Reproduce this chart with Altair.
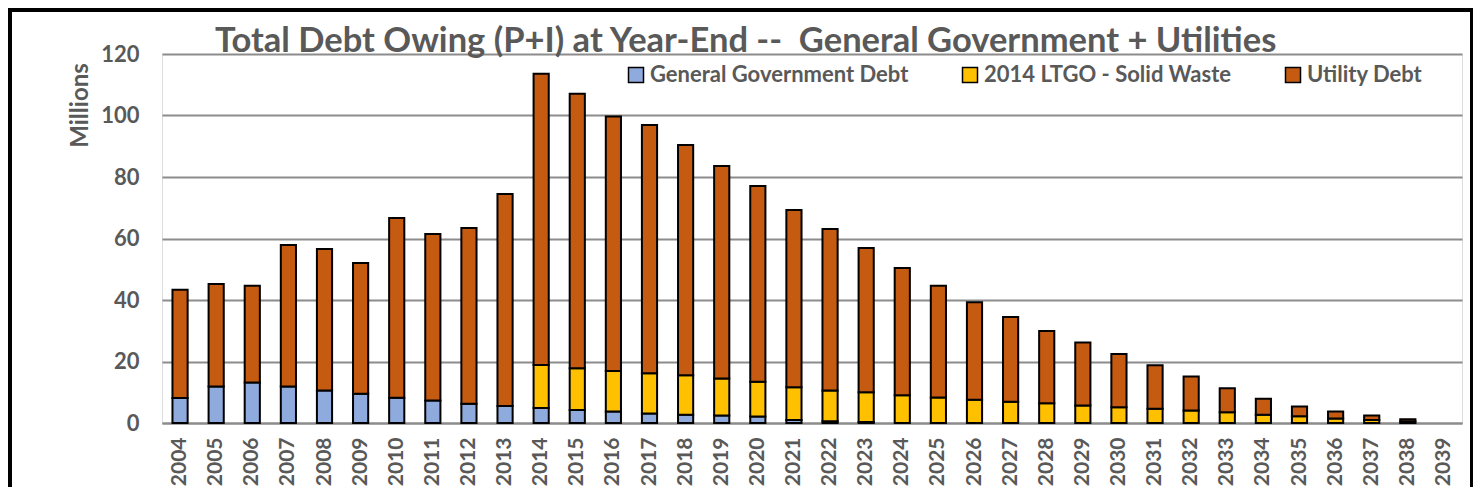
import altair as alt
import pandas as pd

years = [str(y) for y in range(2004, 2040)]

totals = [43.3, 45.2, 44.6, 57.9, 56.6, 52.0, 66.7, 61.5, 63.4, 74.5,
          113.6, 107.1, 99.7, 96.9, 90.4, 83.6, 77.1, 69.3, 63.1, 56.9,
          50.4, 44.6, 39.3, 34.5, 29.9, 26.2, 22.4, 18.8, 15.1, 11.3,
          7.9, 5.4, 3.7, 2.4, 1.2, 0.0]

general_gov = [8.1, 11.9, 13.2, 11.9, 10.6, 9.5, 8.2, 7.3, 6.3, 5.5,
               4.9, 4.2, 3.7, 3.1, 2.7, 2.4, 2.1, 1.0, 0.6, 0.3,
               0.0, 0.0, 0.0, 0.0, 0.0, 0.0, 0.0, 0.0, 0.0, 0.0,
               0.0, 0.0, 0.0, 0.0, 0.0, 0.0]

ltgo_solid_waste = [0.0, 0.0, 0.0, 0.0, 0.0, 0.0, 0.0, 0.0, 0.0, 0.0,
                    14.0, 13.6, 13.2, 13.1, 12.8, 12.1, 11.3, 10.6, 10.0, 9.7,
                    9.0, 8.3, 7.6, 6.9, 6.4, 5.7, 5.1, 4.6, 4.1, 3.5,
                    2.7, 2.2, 1.5, 1.0, 0.5, 0.0]

utility = [round(t - g - l, 2) for t, g, l in zip(totals, general_gov, ltgo_solid_waste)]

series = ["General Government Debt", "2014 LTGO - Solid Waste", "Utility Debt"]
colors = ["#8FAADC", "#FFC000", "#C55A11"]

rows = []
for i, y in enumerate(years):
    for k, (name, vals) in enumerate(zip(series, [general_gov, ltgo_solid_waste, utility])):
        rows.append({"year": y, "series": name, "value": vals[i], "ord": k})
df = pd.DataFrame(rows)

FONT = "Lato"
GREY = "#595959"
GRID = "#8C8C8C"

bars = alt.Chart(df).transform_filter("datum.value > 0").mark_bar(
    stroke="black", strokeWidth=2
).encode(
    x=alt.X("year:N", sort=years,
            scale=alt.Scale(domain=years, paddingInner=0.58, paddingOuter=0.29),
            axis=alt.Axis(title=None, labelAngle=270, labelFont=FONT, labelFontSize=21,
                          labelFontWeight="bold", labelColor=GREY, labelPadding=14,
                          ticks=False, domainColor=GRID, domainWidth=2, grid=False)),
    y=alt.Y("value:Q", stack="zero",
            scale=alt.Scale(domain=[0, 120], nice=False),
            axis=alt.Axis(values=[0, 20, 40, 60, 80, 100, 120], grid=True,
                          gridColor=GRID, gridWidth=2, domain=False, ticks=False,
                          labelFont=FONT, labelFontSize=22, labelFontWeight="bold",
                          labelColor=GREY, labelPadding=23,
                          title="Millions", titleFont=FONT, titleFontSize=24,
                          titleFontWeight="bold", titleColor=GREY,
                          titleX=-82, titleY=51, titleAlign="center",
                          titleBaseline="middle", titleAngle=270)),
    color=alt.Color("series:N", sort=series,
                    scale=alt.Scale(domain=series, range=colors),
                    legend=alt.Legend(title=None, orient="none", legendX=463, legendY=10,
                                      direction="horizontal", columnPadding=50,
                                      symbolType="square", symbolSize=225,
                                      symbolStrokeColor="black", symbolStrokeWidth=1.5,
                                      labelFont=FONT, labelFontSize=22, labelFontWeight="bold",
                                      labelColor=GREY, labelOffset=3, labelLimit=0)),
    order=alt.Order("ord:Q", sort="ascending"),
)

frame = alt.Chart(pd.DataFrame({"f": [0]})).mark_rect(
    fill=None, stroke="black", strokeWidth=4
).encode(x=alt.value(-152), x2=alt.value(1310), y=alt.value(-44), y2=alt.value(460))

chart = alt.layer(frame, bars).properties(
    width=1300, height=369,
    title=alt.TitleParams(
        "Total Debt Owing (P+I) at Year-End --\u00a0 General Government + Utilities",
        anchor="start", dx=207, dy=51, offset=0, font=FONT, fontSize=34.5,
        fontWeight="bold", color=GREY),
    autosize=alt.AutoSizeParams(type="none"),
    padding={"left": 154, "top": 46, "right": 11, "bottom": 64},
).configure_view(stroke=None).configure(background="white")

chart.save("out.html", embed_options={"renderer": "svg", "actions": False})
